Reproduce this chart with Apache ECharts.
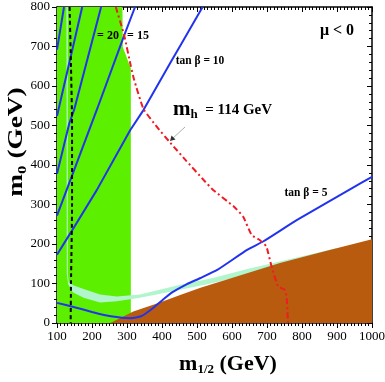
<!DOCTYPE html>
<html>
<head>
<meta charset="utf-8">
<script src="https://cdn.jsdelivr.net/npm/echarts@6/dist/echarts.min.js"></script>
<style>
  html, body { margin: 0; padding: 0; background: #fff; }
  #chart { width: 385px; height: 382px; }
</style>
</head>
<body>
<div id="chart"></div>
<script>
// (m_1/2, m_0) plane, mu < 0
var xRange = [100, 1000];
var yRange = [0, 800];

// regions
var greenRegion = [[100,0],[311,0],[311,645],[306,656],[297,678],[288,698],[287,800],[100,800]];
var cosmoBand = [[131,800],[131,125],[134,102],[150,94],[176,86],[223,72],[271,67],[337,72],[452,97],[546,114],[641,136],[736,156],[898,189],
                 [898,178],[736,141],[641,122],[546,101],[452,84],[337,64],[271,55],[223,52],[176,64],[145,78],[132,98],[128,125],[127,800]];
var brownRegion = [[252,0],[318,29],[394,52],[452,71],[510,89],[737,152],[879,185],[1000,212],[1000,0]];

// tan beta contours
var tanb5  = [[100,51],[150,40],[200,28],[254,17],[311,12],[340,17],[370,35],[404,60],[430,78],[470,98],[510,114],[559,135],[643,185],[690,207],[786,261],[942,341],[1000,370]];
var tanb10 = [[100,173],[140,230],[214,337],[309,488],[347,539],[428,665],[453,703],[516,800]];
var tanb15 = [[100,272],[216,545],[292,728],[323,800]];
var tanb20 = [[100,378],[135,505],[149,540],[226,800]];
var tanb30 = [[100,524],[172,800]];
var tanb40 = [[100,692],[120,800]];

// m_h = 114 GeV and chargino limit
var mh114 = [[268,800],[292,728],[311,650],[320,617],[347,542],[385,497],[424,456],[470,410],[519,362],[546,337],[605,295],[632,269],[656,223],[679,210],[698,194],[713,143],[732,92],[751,84],[756,67],[760,0]];
var charginoLimit = [[136,800],[140,650],[143,500],[143,300],[140,100],[139,0]];

var SERIF = 'Liberation Serif';

function area(points, color, z) {
  return {
    type: 'custom', z: z, silent: true,
    data: [[points[0][0], points[0][1]]],
    renderItem: function (params, api) {
      return {
        type: 'polygon',
        shape: { points: points.map(function (p) { return api.coord(p); }) },
        style: { fill: color }
      };
    }
  };
}

function curve(points, color, width, type, smooth, z) {
  return {
    type: 'line', data: points, symbol: 'none', smooth: smooth, z: z, silent: true,
    lineStyle: { color: color, width: width, type: type }
  };
}

var blue = '#2233ee';
var plainNum = function (v) { return String(v); };

var chart = echarts.init(document.getElementById('chart'), null, { renderer: 'canvas' });
chart.setOption({
  animation: false,
  backgroundColor: '#fff',
  grid: { left: 57, right: 13, top: 7, bottom: 59, outerBoundsMode: 'none' },
  xAxis: [{
    type: 'value', min: xRange[0], max: xRange[1], interval: 100, position: 'bottom',
    axisLine: { show: true, onZero: false, lineStyle: { color: '#000', width: 1.5 } },
    axisTick: { show: true, inside: false, length: 5, lineStyle: { color: '#000' } },
    minorTick: { show: true, splitNumber: 10, length: 3, lineStyle: { color: '#000' } },
    axisLabel: { color: '#000', fontFamily: SERIF, fontSize: 13, margin: 7, formatter: plainNum },
    splitLine: { show: false }
  }, {
    type: 'value', min: xRange[0], max: xRange[1], interval: 100, position: 'top',
    axisLine: { show: true, onZero: false, lineStyle: { color: '#000', width: 1.5 } },
    axisTick: { show: true, inside: true, length: 5, lineStyle: { color: '#000' } },
    minorTick: { show: true, splitNumber: 10, length: 3, lineStyle: { color: '#000' } },
    axisLabel: { show: false },
    splitLine: { show: false }
  }],
  yAxis: [{
    type: 'value', min: yRange[0], max: yRange[1], interval: 100, position: 'left',
    axisLine: { show: true, onZero: false, lineStyle: { color: '#000', width: 1.5 } },
    axisTick: { show: true, inside: false, length: 5, lineStyle: { color: '#000' } },
    minorTick: { show: true, splitNumber: 5, length: 3, lineStyle: { color: '#000' } },
    axisLabel: { color: '#000', fontFamily: SERIF, fontSize: 13, margin: 7, formatter: plainNum },
    splitLine: { show: false }
  }, {
    type: 'value', min: yRange[0], max: yRange[1], interval: 100, position: 'right',
    axisLine: { show: true, onZero: false, lineStyle: { color: '#000', width: 1.5 } },
    axisTick: { show: true, inside: true, length: 5, lineStyle: { color: '#000' } },
    minorTick: { show: true, splitNumber: 5, length: 3, lineStyle: { color: '#000' } },
    axisLabel: { show: false },
    splitLine: { show: false }
  }],
  series: [
    area(greenRegion, '#5cf000', 1),
    area(cosmoBand, '#b0f5cc', 2),
    area(brownRegion, '#b95b0e', 3),
    curve(tanb5, blue, 2, 'solid', 0.15, 5),
    curve(tanb10, blue, 2, 'solid', false, 5),
    curve(tanb15, blue, 2, 'solid', false, 5),
    curve(tanb20, blue, 2, 'solid', false, 5),
    curve(tanb30, blue, 2, 'solid', false, 5),
    curve(tanb40, blue, 2, 'solid', false, 5),
    curve(mh114, '#ee1c24', 2, [6, 3, 2, 3], 0.15, 6),
    curve(charginoLimit, '#000', 2, [4, 3], 0.2, 7)
  ],
  graphic: [
    { type: 'text', x: 17, y: 142, rotation: Math.PI / 2, scaleX: 1.3, z: 10,
      style: { text: '{m|m}{s|0}{m| (GeV)}', align: 'center', verticalAlign: 'middle',
        rich: { m: { fontFamily: SERIF, fontWeight: 'bold', fontSize: 21, lineHeight: 24, fill: '#000' },
                s: { fontFamily: SERIF, fontWeight: 'bold', fontSize: 13, lineHeight: 10, verticalAlign: 'bottom', fill: '#000' } } } },
    { type: 'text', x: 228, y: 364, z: 10,
      style: { text: '{m|m}{s|1/2}{m| (GeV)}', align: 'center', verticalAlign: 'middle',
        rich: { m: { fontFamily: SERIF, fontWeight: 'bold', fontSize: 22, lineHeight: 24, fill: '#000' },
                s: { fontFamily: SERIF, fontWeight: 'bold', fontSize: 13, lineHeight: 10, verticalAlign: 'bottom', fill: '#000' } } } },
    { type: 'text', x: 337, y: 31, z: 10,
      style: { text: 'μ < 0', align: 'center', verticalAlign: 'middle', fontFamily: SERIF, fontWeight: 'bold', fontSize: 16, fill: '#000' } },
    { type: 'text', x: 200, y: 61, z: 10,
      style: { text: 'tan β = 10', align: 'center', verticalAlign: 'middle', fontFamily: SERIF, fontWeight: 'bold', fontSize: 11.5, fill: '#000' } },
    { type: 'text', x: 306, y: 193, z: 10,
      style: { text: 'tan β = 5', align: 'center', verticalAlign: 'middle', fontFamily: SERIF, fontWeight: 'bold', fontSize: 11.5, fill: '#000' } },
    { type: 'text', x: 108, y: 36, z: 10,
      style: { text: '= 20', align: 'center', verticalAlign: 'middle', fontFamily: SERIF, fontWeight: 'bold', fontSize: 12, fill: '#000' } },
    { type: 'text', x: 138, y: 36, z: 10,
      style: { text: '= 15', align: 'center', verticalAlign: 'middle', fontFamily: SERIF, fontWeight: 'bold', fontSize: 12, fill: '#000' } },
    { type: 'text', x: 173, y: 110, z: 10,
      style: { text: '{m|m}{s|h}{t|  = 114 GeV}', align: 'left', verticalAlign: 'middle',
        rich: { m: { fontFamily: SERIF, fontWeight: 'bold', fontSize: 21, lineHeight: 22, fill: '#000' },
                s: { fontFamily: SERIF, fontWeight: 'bold', fontSize: 13, lineHeight: 8, verticalAlign: 'bottom', fill: '#000' },
                t: { fontFamily: SERIF, fontWeight: 'bold', fontSize: 15, lineHeight: 22, fill: '#000' } } } },
    { type: 'line', z: 10, shape: { x1: 185, y1: 127, x2: 172, y2: 139 }, style: { stroke: '#999', lineWidth: 0.8 } },
    { type: 'polygon', z: 10, shape: { points: [[170, 141], [171.5, 135.5], [175.5, 139.5]] }, style: { fill: '#333' } }
  ]
});
</script>
</body>
</html>
